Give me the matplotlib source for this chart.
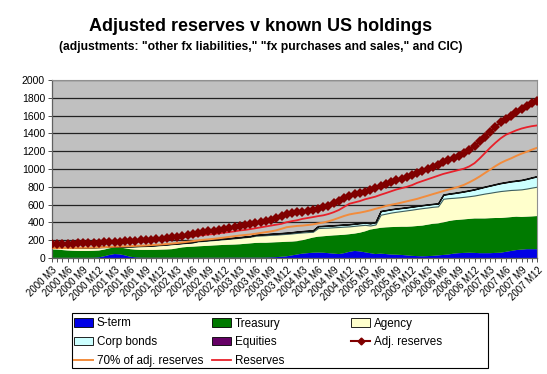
import matplotlib
matplotlib.use("Agg")
import matplotlib.pyplot as plt
import numpy as np
from matplotlib.patches import Patch, Rectangle
from matplotlib.lines import Line2D

plt.rcParams['font.family'] = ['Liberation Sans', 'DejaVu Sans']

# ---- months: 2000 M3 .. 2007 M12 ----
months = [f"{y} M{m}" for y in range(2000, 2008) for m in range(1, 13)][2:]

s_term = [3, 3, 3, 3, 3, 3, 3, 3, 4, 8,
          20, 35, 45, 42, 30, 15, 8, 5, 4, 4,
          4, 4, 4, 4, 4, 4, 4, 4, 4, 4,
          4, 4, 4, 4, 5, 5, 5, 5, 5, 5,
          5, 6, 8, 10, 15, 20, 30, 40, 50, 55,
          60, 62, 60, 55, 50, 45, 55, 70, 80, 75,
          65, 55, 45, 50, 45, 40, 38, 35, 30, 25,
          22, 20, 22, 25, 30, 35, 40, 50, 55, 58,
          60, 58, 55, 55, 55, 58, 60, 70, 80, 90,
          95, 100, 100, 100]

treasury = [94, 92, 87, 82, 79, 77, 77, 77, 78, 77,
            75, 75, 75, 76, 80, 85, 87, 87, 88, 88,
            89, 91, 93, 96, 106, 116, 121, 124, 128, 131,
            134, 138, 141, 144, 145, 147, 150, 155, 160, 165,
            167, 166, 167, 168, 165, 163, 155, 150, 150, 160,
            170, 178, 185, 195, 205, 213, 207, 198, 195, 210,
            235, 265, 285, 290, 300, 308, 312, 317, 322, 330,
            338, 345, 353, 360, 360, 365, 375, 375, 375, 377,
            380, 387, 390, 390, 393, 392, 390, 385, 380, 375,
            367, 365, 368, 372]

agency = [18, 20, 25, 31, 34, 37, 37, 38, 37, 36,
          27, 14, 6, 9, 18, 29, 36, 41, 43, 46,
          49, 51, 54, 56, 51, 46, 46, 48, 56, 57,
          59, 60, 62, 64, 67, 70, 73, 74, 75, 80,
          82, 85, 86, 86, 88, 89, 92, 93, 88, 77,
          65, 97, 95, 92, 91, 91, 91, 88, 87, 83,
          73, 46, 47, 147, 154, 163, 170, 176, 184, 189,
          193, 196, 193, 191, 191, 266, 258, 252, 252, 253,
          255, 258, 269, 280, 286, 294, 303, 304, 305, 303,
          310, 316, 324, 330]

corp_bonds = [3] * 10 + [4] * 18 + [6] * 11 + \
             [10, 10, 11, 11, 12, 12, 12, 13, 13, 14, 14, 15] + \
             [20, 20, 21, 21, 22, 22, 23, 23, 24, 24, 24, 25] + \
             [40, 38, 36, 35, 34, 33, 33, 32, 32, 32, 31, 31] + \
             [45, 48, 52, 56, 60, 64, 68, 72, 76, 80, 84, 88, 92, 96, 100,
              104, 108, 112, 116]

equities = [2] * 51 + [3] * 24 + [4] * 19

adj_reserves = [160, 160, 161, 162, 163, 164, 165, 166, 168, 172,
                176, 180, 183, 186, 189, 192, 195, 199, 203, 208,
                213, 218, 225, 233, 242, 252, 262, 272, 283, 293,
                300, 308, 318, 328, 340, 352, 362, 370, 378, 390,
                403, 415, 428, 445, 470, 495, 505, 515, 522, 530,
                540, 555, 570, 590, 615, 645, 675, 700, 715, 728,
                745, 765, 790, 812, 835, 855, 872, 890, 910, 930,
                950, 975, 1000, 1025, 1050, 1075, 1098, 1120, 1145, 1175,
                1215, 1260, 1310, 1365, 1420, 1475, 1525, 1565, 1600, 1640,
                1675, 1705, 1740, 1770]

pct70_adj = [112, 112, 113, 113, 114, 115, 116, 116, 118, 120,
             123, 126, 128, 130, 132, 134, 137, 139, 142, 146,
             149, 153, 158, 163, 169, 176, 183, 190, 198, 205,
             210, 216, 223, 230, 238, 246, 253, 259, 265, 273,
             282, 291, 300, 312, 329, 347, 354, 361, 365, 371,
             378, 389, 399, 413, 431, 452, 473, 490, 501, 510,
             522, 536, 553, 568, 585, 599, 610, 623, 637, 651,
             665, 683, 700, 718, 735, 753, 769, 784, 802, 823,
             851, 882, 917, 956, 994, 1033, 1068, 1096, 1120, 1148,
             1173, 1194, 1218, 1239]

reserves = [157, 158, 158, 159, 160, 161, 162, 163, 164, 166,
            168, 170, 172, 175, 178, 180, 183, 186, 190, 195, 200, 207,
            215, 220, 228, 235, 240, 245, 252, 258, 265, 270, 278, 286,
            292, 300, 310, 316, 325, 335, 345, 355, 365, 375, 385, 403,
            415, 425, 440, 450, 460, 471,
            480, 495, 515, 540, 575, 610,
            625, 640, 660, 675, 690, 711,
            730, 750, 770, 785, 800, 819,
            845, 865, 885, 905, 925, 945, 960, 975, 990, 1005, 1030, 1066,
            1120, 1180, 1240, 1295, 1345, 1385, 1410, 1435, 1455, 1470, 1482, 1490]

y_ticks = [0, 200, 400, 600, 800, 1000, 1200, 1400, 1600, 1800, 2000]

# colours
c_sterm = '#0000E6'
c_treas = '#007A00'
c_agency = '#FFFFCC'
c_corp = '#CCFFFF'
c_eq = '#660066'
c_adj = '#800000'
c_70 = '#F28C3C'
c_res = '#E8202A'

W, H = 547, 374
fig = plt.figure(figsize=(W / 100, H / 100), dpi=100)
ax = fig.add_axes([0.095, 0.310, 0.887, 0.476])
ax.set_facecolor('#C0C0C0')

x = np.arange(len(months))
polys = ax.stackplot(x, s_term, treasury, agency, corp_bonds, equities,
                     colors=[c_sterm, c_treas, c_agency, c_corp, c_eq],
                     linewidth=0, zorder=2)
polys[3].set_edgecolor('#3E5E5E')
polys[3].set_linewidth(0.8)
polys[4].set_edgecolor('#111111')
polys[4].set_linewidth(0.9)

ax.plot(x, pct70_adj, color=c_70, lw=1.4, zorder=3)
ax.plot(x, reserves, color=c_res, lw=1.3, zorder=4)
ax.plot(x, adj_reserves, color=c_adj, lw=1.5, marker='D', markersize=4.8,
        markeredgewidth=0, zorder=5)

ax.set_xlim(0, len(months) - 1)
ax.set_ylim(0, 2000)
ax.set_yticks(y_ticks)
ax.set_yticklabels([str(v) for v in y_ticks], fontsize=7.5)
ax.yaxis.grid(True, color='#222222', lw=0.9, zorder=1)
ax.set_axisbelow(True)

ax.set_xticks(x)
ax.set_xticklabels([m if i % 3 == 0 else '' for i, m in enumerate(months)],
                   rotation=45, ha='right', rotation_mode='anchor', fontsize=6.9)
ax.tick_params(axis='x', length=3, width=0.6, color='#333333', pad=2)
ax.tick_params(axis='y', length=3, width=0.6, color='#333333', pad=2)
for s in ['top', 'right']:
    ax.spines[s].set_color('#909090')
    ax.spines[s].set_linewidth(0.8)
for s in ['left', 'bottom']:
    ax.spines[s].set_color('#606060')
    ax.spines[s].set_linewidth(0.9)

fig.text(0.477, 0.928, 'Adjusted reserves v known US holdings', ha='center',
         va='center', fontsize=13, fontweight='bold')
fig.text(0.477, 0.873, '(adjustments: "other fx liabilities," "fx purchases and sales," and CIC)',
         ha='center', va='center', fontsize=8.7, fontweight='bold')

h = {
    'S-term': Patch(facecolor=c_sterm, edgecolor='black', lw=0.6),
    'Treasury': Patch(facecolor=c_treas, edgecolor='black', lw=0.6),
    'Agency': Patch(facecolor=c_agency, edgecolor='black', lw=0.6),
    'Corp bonds': Patch(facecolor=c_corp, edgecolor='black', lw=0.6),
    'Equities': Patch(facecolor=c_eq, edgecolor='black', lw=0.6),
    'Adj. reserves': Line2D([], [], color=c_adj, lw=1.5, marker='D', markersize=3.5),
    '70% of adj. reserves': Line2D([], [], color=c_70, lw=1.4),
    'Reserves': Line2D([], [], color=c_res, lw=1.3),
}
columns = [['S-term', 'Corp bonds', '70% of adj. reserves'],
           ['Treasury', 'Equities', 'Reserves'],
           ['Agency', 'Adj. reserves']]
col_x = [74, 212, 351]

# legend frame
fig.add_artist(Rectangle((72 / W, 1 - 368 / H), 416 / W, 55 / H,
                         transform=fig.transFigure, facecolor='white',
                         edgecolor='black', lw=0.8, zorder=1))
for cx, labels in zip(col_x, columns):
    lg = fig.legend([h[k] for k in labels], labels, loc='upper left',
                    bbox_to_anchor=(cx / W, 1 - 317.5 / H), fontsize=8.4,
                    frameon=False, borderpad=0.0, borderaxespad=0,
                    handlelength=1.65, handleheight=0.75, handletextpad=0.3,
                    labelspacing=0.58)
    lg.set_zorder(2)

fig.savefig('out.png', dpi=100)
